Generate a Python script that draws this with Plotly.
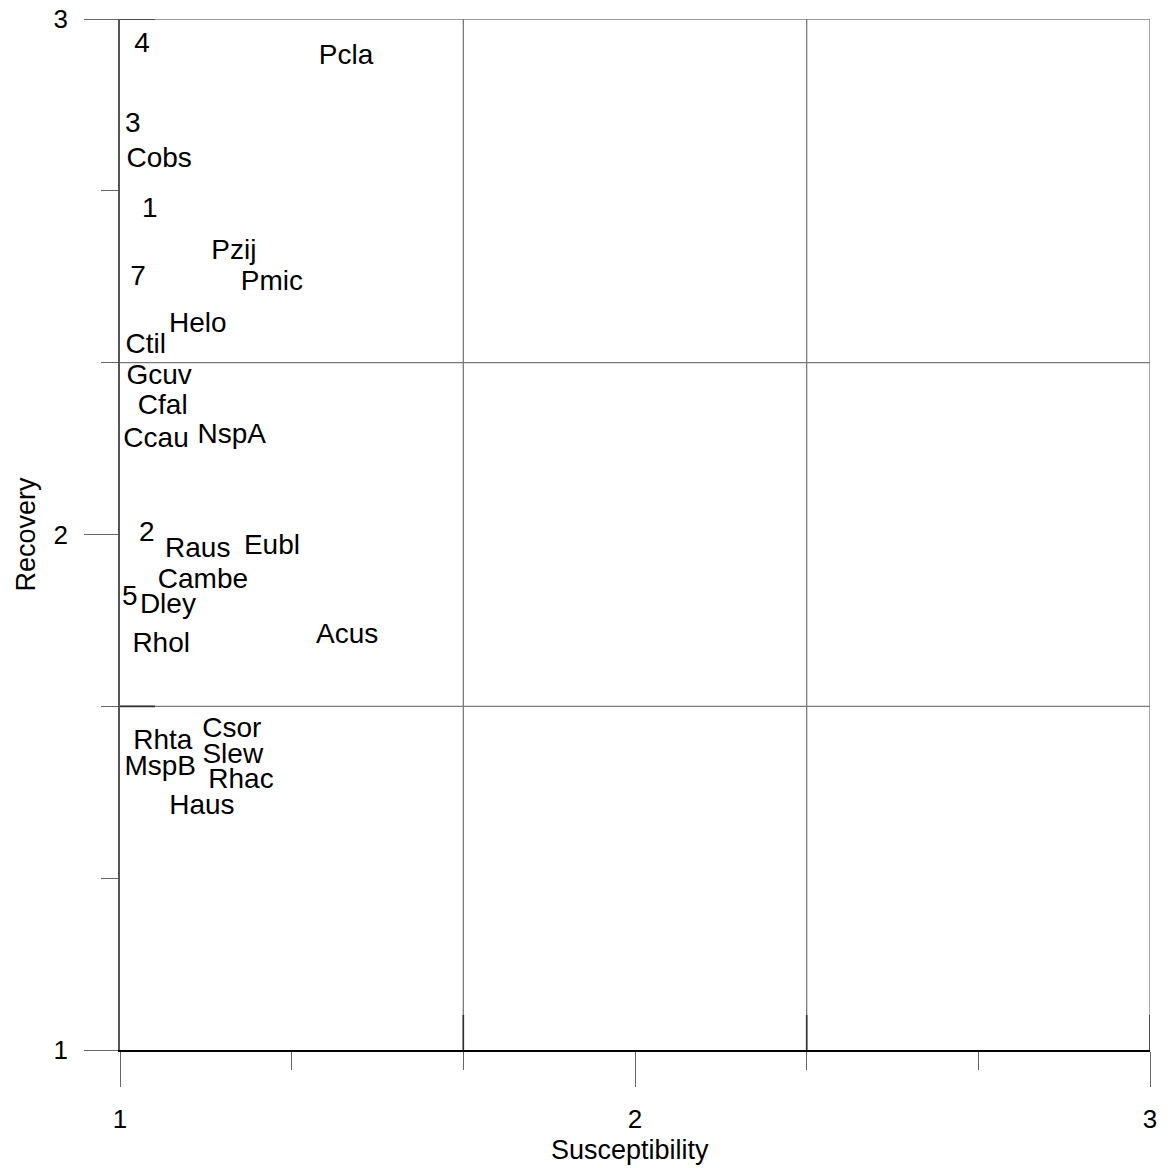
import plotly.graph_objects as go

# Species / group labels placed at (susceptibility, recovery)
labels = ["4", "Pcla", "3", "Cobs", "1", "Pzij", "7", "Pmic", "Helo", "Ctil",
          "Gcuv", "Cfal", "Ccau", "NspA", "2", "Raus", "Eubl", "Cambe", "5", "Dley",
          "Rhol", "Acus", "Csor", "Rhta", "Slew", "MspB", "Rhac", "Haus"]
susceptibility = [1.043, 1.439, 1.025, 1.076, 1.058, 1.221, 1.035, 1.295, 1.151, 1.050,
                  1.076, 1.083, 1.070, 1.217, 1.052, 1.151, 1.295, 1.161, 1.019, 1.093,
                  1.080, 1.441, 1.217, 1.083, 1.219, 1.078, 1.235, 1.159]
recovery = [2.949, 2.926, 2.794, 2.726, 2.629, 2.548, 2.497, 2.488, 2.406, 2.365,
            2.305, 2.247, 2.183, 2.191, 2.001, 1.970, 1.976, 1.910, 1.877, 1.861,
            1.785, 1.803, 1.621, 1.597, 1.570, 1.547, 1.522, 1.471]

axis_ticks = [1, 2, 3]
thirds = [5 / 3, 7 / 3]

FONT = "Liberation Sans, Arial, sans-serif"
GRID = "#7a7a7a"

fig = go.Figure()
fig.add_trace(go.Scatter(
    x=susceptibility, y=recovery, text=labels, mode="text",
    textposition="middle center",
    textfont=dict(family=FONT, size=28, color="black"),
    hoverinfo="text", showlegend=False,
))

shapes = []
# interior grid dividing the plane into thirds
for v in thirds:
    shapes.append(dict(type="line", xref="x", yref="y", x0=v, x1=v, y0=1, y1=3,
                       line=dict(color=GRID, width=1.3)))
    shapes.append(dict(type="line", xref="x", yref="y", x0=1, x1=3, y0=v, y1=v,
                       line=dict(color=GRID, width=1.3)))
# top and right frame
shapes.append(dict(type="line", xref="x", yref="y", x0=1, x1=3, y0=3, y1=3,
                   line=dict(color=GRID, width=1.3)))
shapes.append(dict(type="line", xref="x", yref="y", x0=3, x1=3, y0=1, y1=3,
                   line=dict(color=GRID, width=1.3)))
# short inner tick marks
for v in thirds + [3]:
    shapes.append(dict(type="line", xref="x", yref="y", x0=v, x1=v,
                       ysizemode="pixel", yanchor=1, y0=0, y1=35,
                       line=dict(color="#333", width=1.6)))
for v in [thirds[0], 3]:
    shapes.append(dict(type="line", xref="x", yref="y", y0=v, y1=v,
                       xsizemode="pixel", xanchor=1, x0=0, x1=35,
                       line=dict(color="#333", width=1.6)))

fig.update_layout(
    width=1170, height=1168,
    margin=dict(l=120, r=20, t=19, b=118),
    paper_bgcolor="white", plot_bgcolor="white",
    font=dict(family=FONT, size=26, color="black"),
    shapes=shapes,
    annotations=[
        dict(text="Susceptibility", xref="paper", yref="paper", x=0.495, y=0,
             yshift=-100, showarrow=False, xanchor="center", yanchor="middle",
             font=dict(family=FONT, size=27, color="black")),
        dict(text="Recovery", xref="paper", yref="paper", x=0, y=0.5,
             xshift=-95, textangle=-90, showarrow=False,
             xanchor="center", yanchor="middle",
             font=dict(family=FONT, size=27, color="black")),
    ],
    xaxis=dict(range=[1, 3], showgrid=False, zeroline=False, automargin=False,
               showline=True, linecolor="black", linewidth=1.6,
               tickmode="array", tickvals=axis_ticks,
               ticktext=[str(t) for t in axis_ticks],
               ticks="outside", ticklen=35, tickwidth=1.2, tickcolor="#666",
               ticklabelstandoff=10,
               tickfont=dict(family=FONT, size=26, color="black"),
               minor=dict(ticks="outside", dtick=1 / 3, tick0=1, ticklen=18,
                          tickwidth=1.2, tickcolor="#666", showgrid=False)),
    yaxis=dict(range=[1, 3], showgrid=False, zeroline=False, automargin=False,
               showline=True, linecolor="#555", linewidth=1.6,
               tickmode="array", tickvals=axis_ticks,
               ticktext=[str(t) for t in axis_ticks],
               ticks="outside", ticklen=34, tickwidth=1.2, tickcolor="#666",
               ticklabelstandoff=11,
               tickfont=dict(family=FONT, size=26, color="black"),
               minor=dict(ticks="outside", dtick=1 / 3, tick0=1, ticklen=17,
                          tickwidth=1.2, tickcolor="#666", showgrid=False)),
)

fig.write_html("out.html")
